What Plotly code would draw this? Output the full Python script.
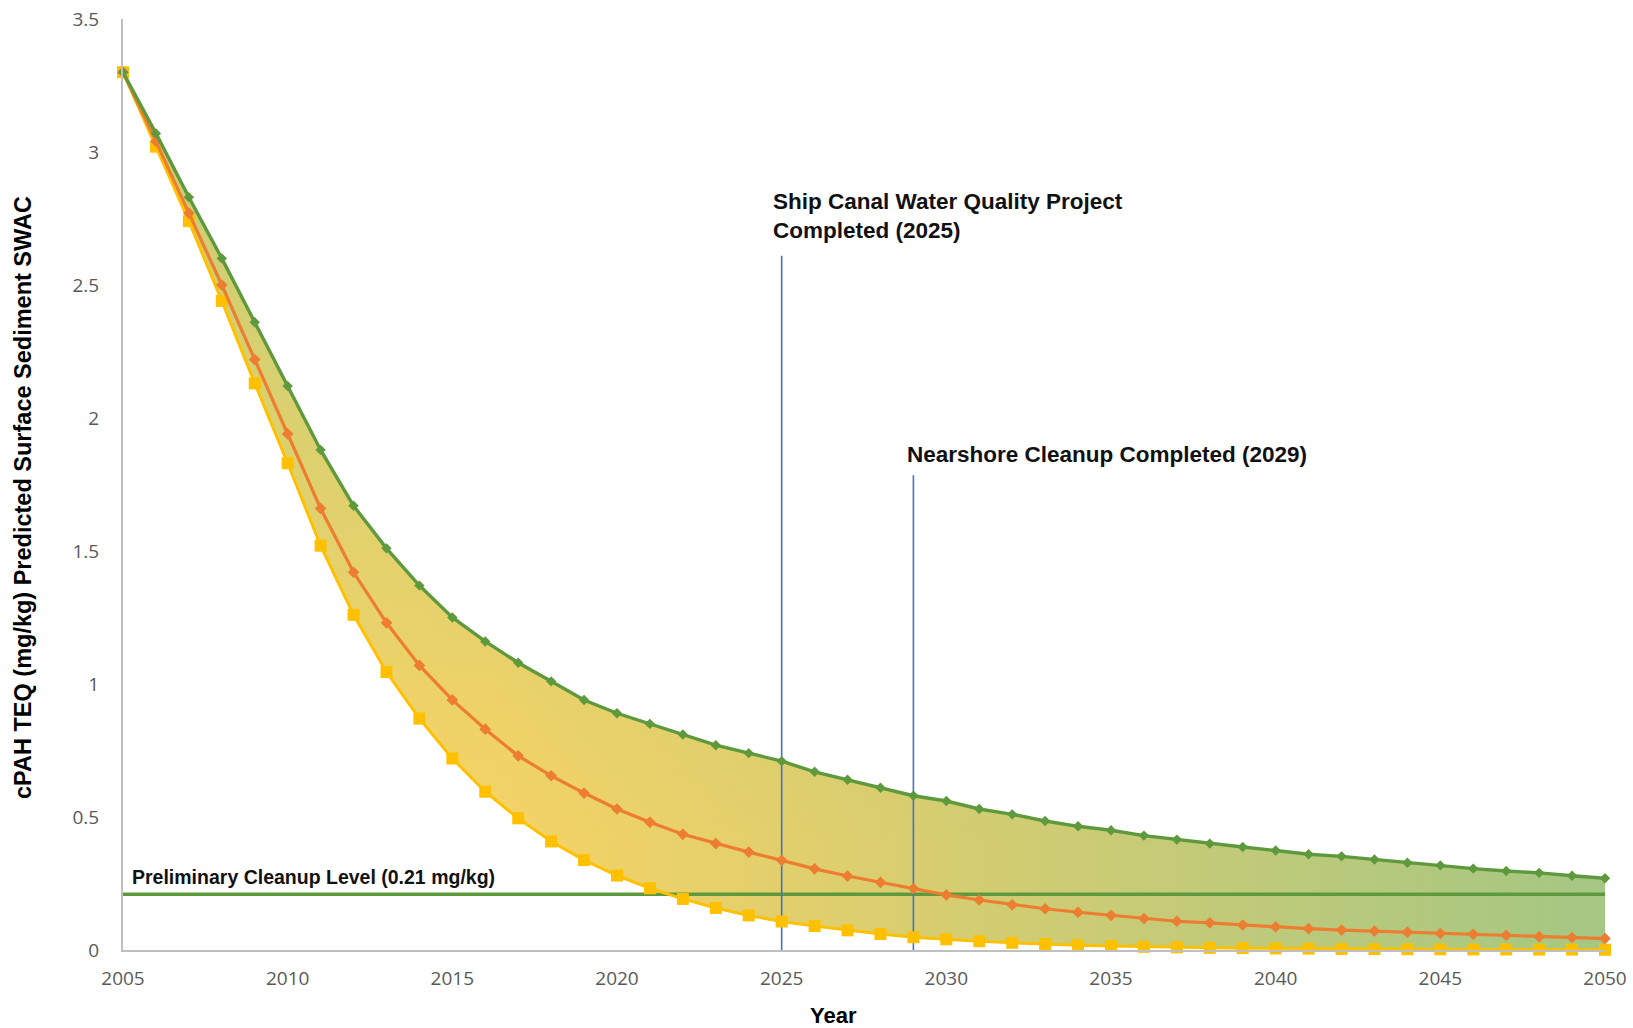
import plotly.graph_objects as go

years = list(range(2005, 2051))

upper_green = [3.30, 3.07, 2.83, 2.60, 2.36, 2.12, 1.88, 1.67, 1.51, 1.37,
               1.25, 1.16, 1.08, 1.01, 0.94, 0.89, 0.85, 0.81, 0.77, 0.74,
               0.71, 0.67, 0.64, 0.61, 0.58, 0.56, 0.53, 0.51, 0.485, 0.465,
               0.45, 0.43, 0.415, 0.40, 0.387, 0.374, 0.36, 0.352, 0.34, 0.328,
               0.318, 0.306, 0.297, 0.29, 0.279, 0.27]

middle_orange = [3.30, 3.04, 2.77, 2.50, 2.22, 1.94, 1.66, 1.42, 1.23, 1.07,
                 0.94, 0.83, 0.73, 0.655, 0.59, 0.53, 0.48, 0.435, 0.40, 0.368,
                 0.337, 0.305, 0.278, 0.254, 0.231, 0.207, 0.188, 0.17, 0.155, 0.142,
                 0.13, 0.118, 0.108, 0.102, 0.094, 0.087, 0.08, 0.075, 0.071, 0.067,
                 0.062, 0.059, 0.055, 0.05, 0.047, 0.043]

lower_yellow = [3.30, 3.02, 2.74, 2.44, 2.13, 1.83, 1.52, 1.26, 1.045, 0.87,
                0.72, 0.595, 0.495, 0.408, 0.338, 0.28, 0.232, 0.192, 0.158, 0.13,
                0.107, 0.09, 0.074, 0.06, 0.048, 0.04, 0.033, 0.027, 0.022, 0.018,
                0.015, 0.012, 0.01, 0.008, 0.007, 0.006, 0.005, 0.004, 0.0035, 0.003,
                0.0025, 0.002, 0.002, 0.0015, 0.0015, 0.001]

cleanup_level = 0.21
cleanup_x = [2005, 2050]

event_years = [2025, 2029]
event_tops = [2.61, 1.785]

y_ticks = [0, 0.5, 1, 1.5, 2, 2.5, 3, 3.5]
y_tick_labels = ["0", "0.5", "1", "1.5", "2", "2.5", "3", "3.5"]
x_ticks = list(range(2005, 2051, 5))

GREEN = "#5E9A3D"
ORANGE = "#ED7D31"
YELLOW = "#FFC000"
BLUE = "#4472C4"

fig = go.Figure()

# gradient band (base horizontal gradient)
fig.add_trace(go.Scatter(x=years, y=lower_yellow, mode="lines",
                         line=dict(width=0, color=YELLOW), showlegend=False,
                         hoverinfo="skip"))
fig.add_trace(go.Scatter(x=years, y=upper_green, mode="lines", fill="tonexty",
                         line=dict(width=0, color=GREEN), showlegend=False,
                         fillgradient=dict(type="horizontal", start=2005, stop=2050,
                                           colorscale=[[0, "#F9D566"], [0.25, "#F6D365"],
                                                       [0.5, "#DCCE6E"], [0.75, "#C0CA79"],
                                                       [1, "#A4C783"]]),
                         hoverinfo="skip"))
# vertical overlay to tint the upper-left part greener
fig.add_trace(go.Scatter(x=years, y=lower_yellow, mode="lines",
                         line=dict(width=0, color=YELLOW), showlegend=False,
                         hoverinfo="skip"))
fig.add_trace(go.Scatter(x=years, y=upper_green, mode="lines", fill="tonexty",
                         line=dict(width=0, color=GREEN), showlegend=False,
                         fillgradient=dict(type="vertical", start=0.4, stop=3.3,
                                           colorscale=[[0, "rgba(160,200,130,0)"],
                                                       [1, "rgba(160,200,130,0.6)"]]),
                         hoverinfo="skip"))

# cleanup level line
fig.add_trace(go.Scatter(x=cleanup_x, y=[cleanup_level] * len(cleanup_x), mode="lines",
                         line=dict(width=3.5, color=GREEN), showlegend=False,
                         cliponaxis=False, hoverinfo="skip"))

# event lines
for yr, top in zip(event_years, event_tops):
    fig.add_trace(go.Scatter(x=[yr, yr], y=[0, top], mode="lines",
                             line=dict(width=1.6, color=BLUE), showlegend=False,
                             hoverinfo="skip"))

fig.add_trace(go.Scatter(x=years, y=lower_yellow, mode="lines+markers",
                         line=dict(width=3, color=YELLOW),
                         marker=dict(symbol="square", size=12, color=YELLOW),
                         showlegend=False, cliponaxis=False))
fig.add_trace(go.Scatter(x=years, y=middle_orange, mode="lines+markers",
                         line=dict(width=3.2, color=ORANGE),
                         marker=dict(symbol="diamond", size=9, color=ORANGE),
                         showlegend=False, cliponaxis=False))
fig.add_trace(go.Scatter(x=years, y=upper_green, mode="lines+markers",
                         line=dict(width=3.4, color=GREEN),
                         marker=dict(symbol="diamond", size=8, color=GREEN),
                         showlegend=False, cliponaxis=False))

label_font = dict(family="Liberation Sans Narrow, Liberation Sans, Arial Narrow, sans-serif",
                  size=22.5, color="#111111")

fig.add_annotation(x=2024.69, y=2.758, xref="x", yref="y", xanchor="left", yanchor="middle",
                   text="<b>Ship Canal Water Quality Project<br>Completed (2025)</b>",
                   showarrow=False, align="left", font=label_font)
fig.add_annotation(x=2028.73, y=1.864, xref="x", yref="y", xanchor="left", yanchor="middle",
                   text="<b>Nearshore Cleanup Completed (2029)</b>",
                   showarrow=False, align="left", font=label_font)
fig.add_annotation(x=2005.22, y=0.273, xref="x", yref="y", xanchor="left", yanchor="middle",
                   text="<b>Preliminary Cleanup Level (0.21 mg/kg)</b>",
                   showarrow=False, align="left",
                   font=dict(family=label_font["family"], size=19.5, color="#111111"))

fig.add_annotation(x=2026.57, y=0, xref="x", yref="paper", yshift=-65, yanchor="middle",
                   text="<b>Year</b>", showarrow=False,
                   font=dict(family="Liberation Sans, Arial, sans-serif", size=22, color="#000000"))
fig.add_annotation(x=0, y=0.4855, xref="paper", yref="paper", xshift=-100, xanchor="center",
                   yanchor="middle", textangle=-90,
                   text="<b>cPAH TEQ (mg/kg) Predicted Surface Sediment SWAC</b>",
                   showarrow=False,
                   font=dict(family="Liberation Sans, Arial, sans-serif", size=23.5, color="#000000"))

tick_font = dict(family="Open Sans, Noto Sans, sans-serif", size=19, color="#595959")

fig.update_xaxes(range=[2005, 2050], tickvals=x_ticks, showgrid=False, zeroline=False,
                 showline=True, linecolor="#BFBFBF", linewidth=2, ticks="",
                 ticklabelstandoff=10, tickfont=tick_font, automargin=False)
fig.update_yaxes(range=[0, 3.5], tickvals=y_ticks, ticktext=y_tick_labels, showgrid=False,
                 zeroline=False, showline=True, linecolor="#BFBFBF", linewidth=2, ticks="",
                 ticklabelstandoff=18, tickfont=tick_font, automargin=False)

fig.update_layout(width=1633, height=1028, autosize=False,
                  margin=dict(l=123, r=28, t=19, b=78, autoexpand=False),
                  plot_bgcolor="white", paper_bgcolor="white", showlegend=False)

fig.write_html("out.html", config={"displayModeBar": False},
               post_script="document.body.style.margin='0';document.body.style.overflow='hidden';")
